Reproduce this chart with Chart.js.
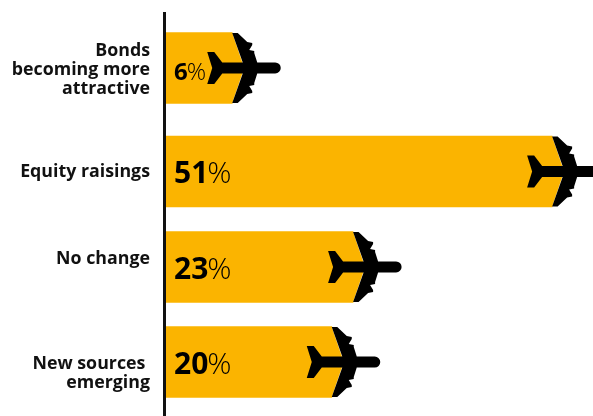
<!DOCTYPE html>
<html>
<head>
<meta charset="utf-8">
<style>
  html, body { margin: 0; padding: 0; background: #fff; }
  canvas { display: block; }
</style>
</head>
<body>
<canvas id="planes" width="593" height="416"></canvas>
<script src="https://cdn.jsdelivr.net/npm/chart.js@4/dist/chart.umd.js"></script>
<script>
const categories = [
  ['Bonds', 'becoming more', 'attractive'],
  'Equity raisings',
  ['No change', ''],
  ['', 'New sources ', 'emerging']
];
const shares = [6, 51, 23, 20];

const YELLOW = '#fbb400';
const FONT = '"Open Sans", "Noto Sans", sans-serif';
const AXIS_MIN = -3.6;
const AXIS_MAX = 56.75;

// the rows in the original are not evenly spaced
const rowNudge = [4.6, 7.4, 2.1, -3.6];
const labelNudge = [2, 0, 2, 2];

class RowScale extends Chart.CategoryScale {
  getPixelForValue(value, index) {
    return super.getPixelForValue(value, index) + (rowNudge[value] || 0);
  }
  getPixelForTick(index) {
    return super.getPixelForTick(index) + (labelNudge[index] || 0);
  }
}
RowScale.id = 'rows';
RowScale.defaults = Chart.CategoryScale.defaults;
Chart.register(RowScale);

// plane outline, top half, origin at the end of the bar
const planeTop = [
  [25, -5.5], [22, -15], [22, -17], [17, -18], [20, -23], [20, -25], [15, -26],
  [5.5, -35], [0, -35], [10.5, -5.5], [-10, -5.5], [-18, -16], [-25, -16], [-20, 0]
];

function drawPlane(ctx, x, y) {
  ctx.save();
  ctx.translate(x, y);

  // the bar runs on to the wing root
  ctx.fillStyle = YELLOW;
  ctx.beginPath();
  ctx.moveTo(-1, -35);
  ctx.lineTo(0, -35);
  ctx.lineTo(12, 0);
  ctx.lineTo(0, 35);
  ctx.lineTo(-1, 35);
  ctx.closePath();
  ctx.fill();

  ctx.fillStyle = '#000';
  ctx.beginPath();
  ctx.moveTo(43, -5.5);
  planeTop.forEach(p => ctx.lineTo(p[0], p[1]));
  planeTop.slice(0, -1).reverse().forEach(p => ctx.lineTo(p[0], -p[1]));
  ctx.lineTo(43, 5.5);
  ctx.arc(43, 0, 5.5, Math.PI / 2, -Math.PI / 2, true);
  ctx.closePath();
  ctx.fill();
  ctx.restore();
}

const planePlugin = {
  id: 'planePlugin',
  afterDatasetsDraw(chart) {
    const ctx = chart.ctx;
    const meta = chart.getDatasetMeta(0);
    meta.data.forEach((bar, i) => {
      drawPlane(ctx, bar.x, bar.y);

      // the single digit label is set smaller and lower in the original
      const small = shares[i] < 10;
      const size = small ? 24 : 30;
      const textY = bar.y + (small ? 5 : 3);
      const left = chart.chartArea.left + 10;
      const num = String(shares[i]);
      ctx.save();
      ctx.textBaseline = 'middle';
      ctx.textAlign = 'left';
      ctx.fillStyle = '#000';
      ctx.font = 'bold ' + size + 'px ' + FONT;
      ctx.fillText(num, left, textY);
      const w = ctx.measureText(num).width;
      ctx.font = '300 ' + size + 'px ' + FONT;
      ctx.fillText('%', left + w - 1, textY);
      ctx.restore();
    });
  }
};

new Chart(document.getElementById('planes'), {
  type: 'bar',
  data: {
    labels: categories,
    datasets: [{
      data: shares,
      base: AXIS_MIN,
      backgroundColor: YELLOW,
      borderWidth: 0,
      barThickness: 71
    }]
  },
  options: {
    indexAxis: 'y',
    responsive: false,
    animation: false,
    layout: { padding: { top: 13, left: 0, right: 0, bottom: 0 } },
    plugins: {
      legend: { display: false },
      tooltip: { enabled: false }
    },
    scales: {
      x: { display: false, min: AXIS_MIN, max: AXIS_MAX },
      y: {
        type: 'rows',
        afterFit(scale) {
          scale.width = 164;
          // keep tall labels from shrinking the axis
          scale.paddingTop = 0;
          scale.paddingBottom = 0;
        },
        grid: { display: false, drawTicks: false },
        border: { display: true, color: '#111', width: 3, z: 2 },
        ticks: {
          padding: 14,
          color: '#111',
          font: { family: FONT, weight: 'bold', size: 17.8, lineHeight: 1.09 },
          autoSkip: false
        }
      }
    }
  },
  plugins: [planePlugin]
});
</script>
</body>
</html>
